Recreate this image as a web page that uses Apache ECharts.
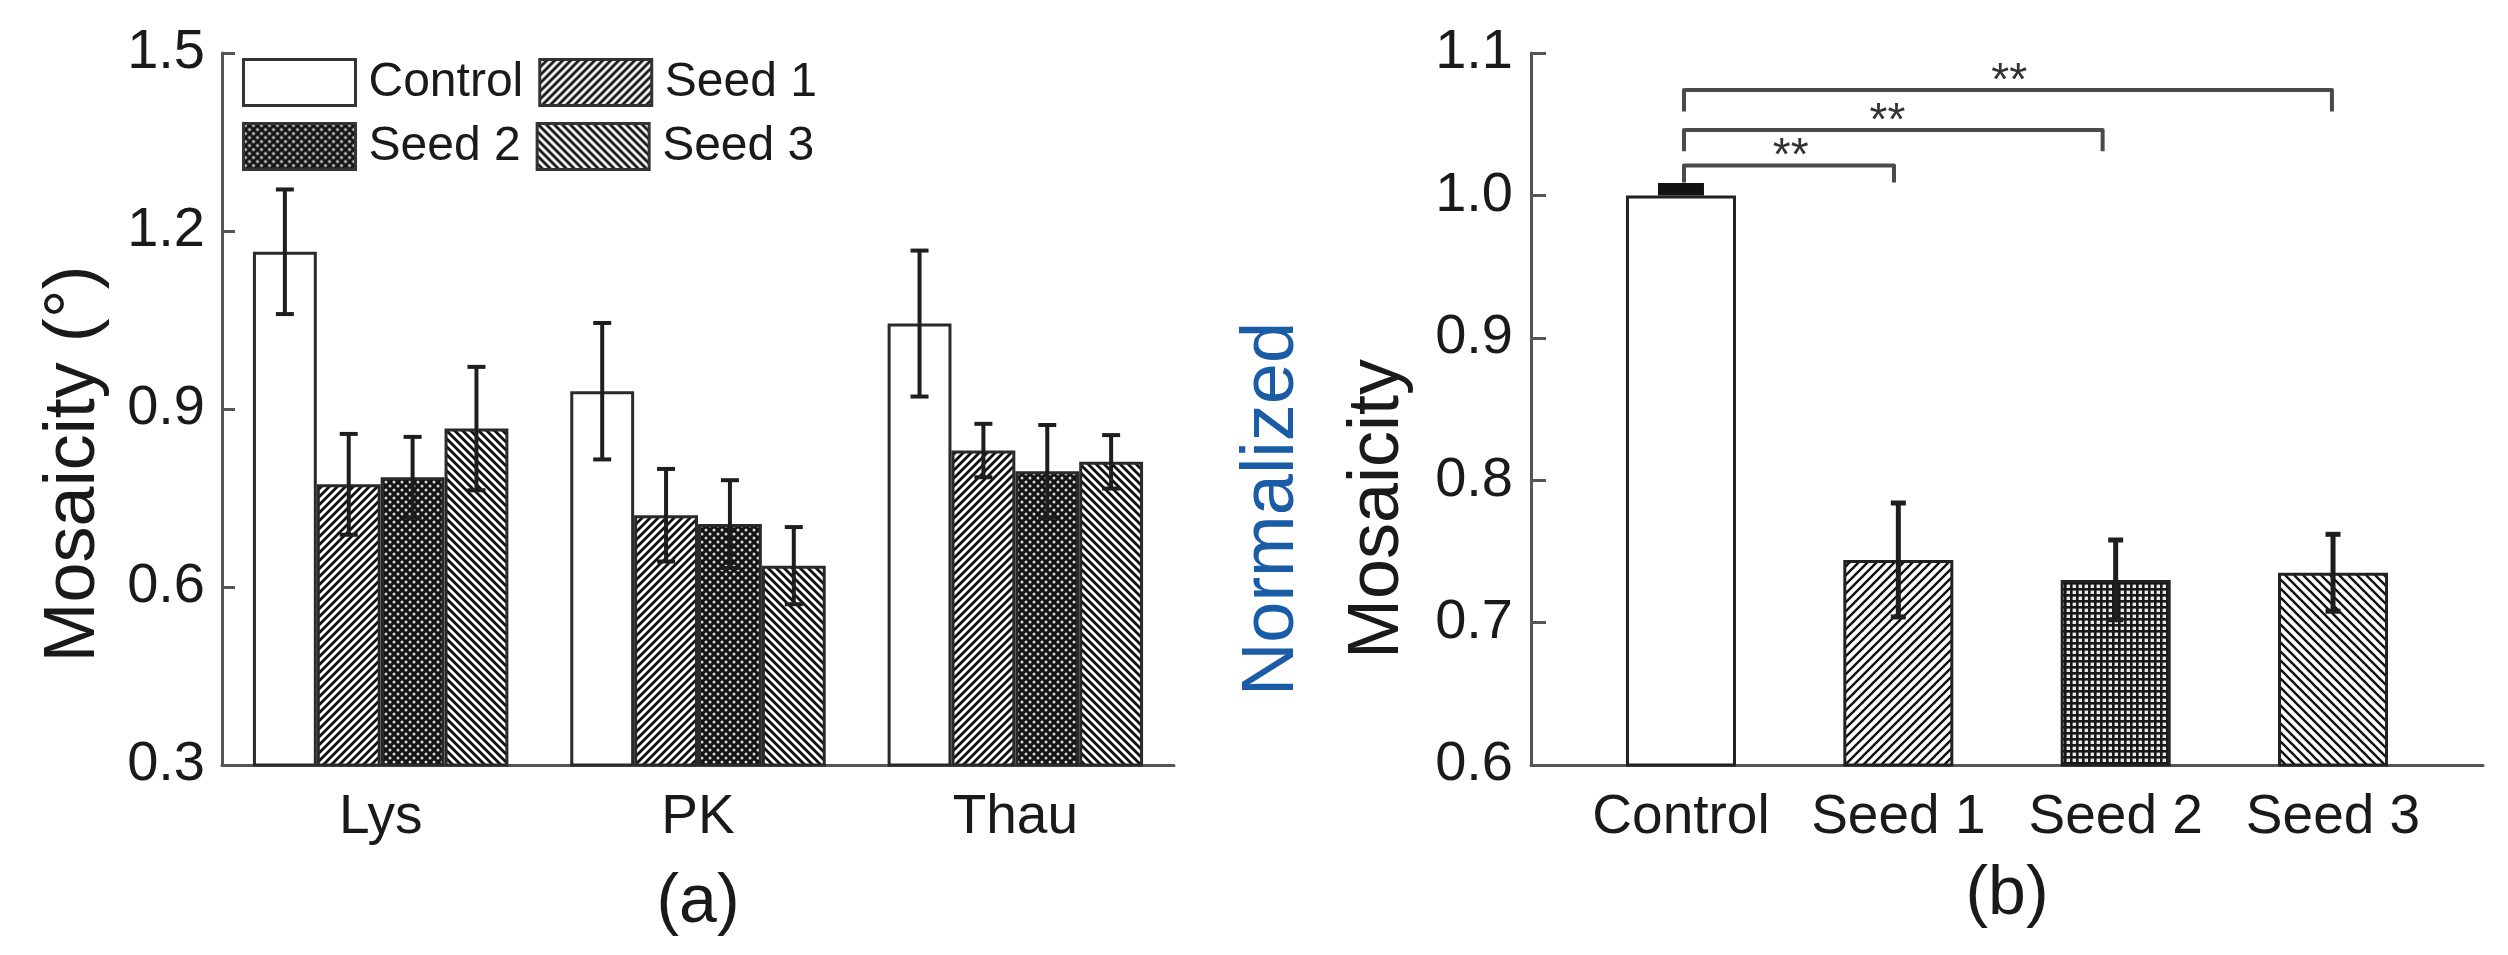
<!DOCTYPE html>
<html>
<head>
<meta charset="utf-8">
<script src="https://cdn.jsdelivr.net/npm/echarts@6.0.0/dist/echarts.min.js"></script>
<style>
html,body{margin:0;padding:0;background:#fff;}
#chart{width:2508px;height:955px;}
</style>
</head>
<body>
<div id="chart"></div>
<script>
// ---------- data ----------
const categoriesA = ['Lys', 'PK', 'Thau'];
const seriesNames = ['Control', 'Seed 1', 'Seed 2', 'Seed 3'];
const controlA = [1.165, 0.930, 1.044];
const seed1A = [0.773, 0.721, 0.830];
const seed2A = [0.785, 0.706, 0.795];
const seed3A = [0.867, 0.636, 0.811];
const controlErrA = [0.105, 0.115, 0.123];
const seed1ErrA = [0.085, 0.078, 0.045];
const seed2ErrA = [0.068, 0.074, 0.078];
const seed3ErrA = [0.104, 0.065, 0.045];
const yTicksA = [0.3, 0.6, 0.9, 1.2, 1.5];

const categoriesB = ['Control', 'Seed 1', 'Seed 2', 'Seed 3'];
const positionsB = [1, 2, 3, 4];
const valuesB = [1.000, 0.744, 0.730, 0.735];
const errB = [0.0087, 0.040, 0.028, 0.027];
const yTicksB = [0.6, 0.7, 0.8, 0.9, 1.0, 1.1];

// significance brackets (panel b)
const bracketLeftX = [1.014, 1.014, 1.014];
const bracketRightX = [1.98, 2.94, 3.995];
const bracketY = [1.021, 1.046, 1.074];
const bracketLegY = [1.009, 1.031, 1.059];
const starX = [1.505, 1.95, 2.51];
const starLabels = ['**', '**', '**'];

// ---------- styles ----------
const FONT = 'Liberation Sans, Arial, sans-serif';
const INK = '#1a1a1a';
const AXIS = '#555';

function tile(size, draw) {
  const c = document.createElement('canvas');
  c.width = size; c.height = size;
  const g = c.getContext('2d');
  draw(g, size);
  return { image: c, repeat: 'repeat' };
}
function stripes(size, lw, forward) {
  return tile(size, (g, s) => {
    g.fillStyle = '#fff'; g.fillRect(0, 0, s, s);
    g.strokeStyle = '#111'; g.lineWidth = lw; g.lineCap = 'square';
    const segs = forward
      ? [[-s, s, s, -s], [0, s, s, 0], [0, 2 * s, 2 * s, 0]]
      : [[0, 0, s, s], [-s, 0, s, 2 * s], [0, -s, 2 * s, s]];
    segs.forEach(p => { g.beginPath(); g.moveTo(p[0], p[1]); g.lineTo(p[2], p[3]); g.stroke(); });
  });
}
const dots = tile(8, (g, s) => {
  g.fillStyle = '#151515'; g.fillRect(0, 0, s, s);
  g.fillStyle = '#d8d8d8';
  [[2, 2], [6, 6]].forEach(p => { g.beginPath(); g.arc(p[0], p[1], 1.5, 0, Math.PI * 2); g.fill(); });
});
const grid = tile(6, (g, s) => {
  g.fillStyle = '#e8e8e8'; g.fillRect(0, 0, s, s);
  g.fillStyle = '#181818'; g.fillRect(0, 0, s, 2.6); g.fillRect(0, 0, 2.6, s);
});
const patA = ['#ffffff', stripes(8, 2.8, true), dots, stripes(8, 2.8, false)];
const patB = ['#ffffff', stripes(9, 2.4, true), grid, stripes(9, 2.4, false)];

const valuesA = [controlA, seed1A, seed2A, seed3A];
const errsA = [controlErrA, seed1ErrA, seed2ErrA, seed3ErrA];
const BAR_FRAC = 0.805;

function errBar(x, yH, yL, cap, lw) {
  const st = { stroke: '#1e1e1e', lineWidth: lw };
  return [
    { type: 'line', shape: { x1: x, y1: yH, x2: x, y2: yL }, style: st },
    { type: 'line', shape: { x1: x - cap / 2, y1: yH, x2: x + cap / 2, y2: yH }, style: st },
    { type: 'line', shape: { x1: x - cap / 2, y1: yL, x2: x + cap / 2, y2: yL }, style: st }
  ];
}

const series = [];
seriesNames.forEach((name, j) => {
  series.push({
    name: name, type: 'bar', xAxisIndex: 0, yAxisIndex: 0,
    data: valuesA[j], barGap: '0%', barCategoryGap: '19.5%',
    itemStyle: { color: patA[j], borderColor: '#2a2a2a', borderWidth: 3 },
    clip: true
  });
});
seriesNames.forEach((name, j) => {
  series.push({
    name: name + ' err', type: 'custom', xAxisIndex: 0, yAxisIndex: 0, z: 5,
    data: categoriesA.map((c, i) => [i, valuesA[j][i], errsA[j][i]]),
    renderItem: function (params, api) {
      const c = api.value(0), m = api.value(1), e = api.value(2);
      const band = api.size([1, 0])[0];
      const bw = band * BAR_FRAC / 4;
      const x = api.coord([c, m])[0] + (j - 1.5) * bw;
      const yH = api.coord([c, m + e])[1];
      const yL = api.coord([c, m - e])[1];
      return { type: 'group', children: errBar(x, yH, yL, 18, 4) };
    }
  });
});

series.push({
  name: 'b', type: 'bar', xAxisIndex: 1, yAxisIndex: 1, barWidth: 110, clip: true,
  data: positionsB.map((p, i) => ({
    value: [p, valuesB[i]],
    itemStyle: { color: patB[i], borderColor: '#222', borderWidth: 3 }
  }))
});
series.push({
  name: 'b err', type: 'custom', xAxisIndex: 1, yAxisIndex: 1, z: 5,
  data: positionsB.map((p, i) => [p, valuesB[i], errB[i]]),
  renderItem: function (params, api) {
    const p = api.value(0), m = api.value(1), e = api.value(2);
    const x = api.coord([p, m])[0];
    const yM = api.coord([p, m])[1];
    const yH = api.coord([p, m + e])[1];
    const yL = api.coord([p, m - e])[1];
    if (yM - yH < 20) {
      return { type: 'rect', shape: { x: x - 23, y: yH, width: 46, height: yM - yH }, style: { fill: '#111' } };
    }
    return { type: 'group', children: errBar(x, yH, yL, 15, 5) };
  }
});
series.push({
  name: 'sig', type: 'custom', xAxisIndex: 1, yAxisIndex: 1, z: 6, clip: false,
  data: bracketY.map((y, i) => [bracketLeftX[i], bracketRightX[i], y, bracketLegY[i], starX[i]]),
  renderItem: function (params, api) {
    const i = params.dataIndex;
    const x1 = api.value(0), x2 = api.value(1), y = api.value(2), yl = api.value(3), xs = api.value(4);
    const a = api.coord([x1, y]), b = api.coord([x2, y]);
    const la = api.coord([x1, yl]), lb = api.coord([x2, yl]);
    const s = api.coord([xs, y]);
    return {
      type: 'group', children: [
        { type: 'polyline', shape: { points: [[la[0], la[1]], [a[0], a[1]], [b[0], b[1]], [lb[0], lb[1]]] },
          style: { stroke: '#4a4a4a', lineWidth: 4, fill: null, lineJoin: 'round' } },
        { type: 'text', x: s[0], y: s[1] + 15,
          style: { text: starLabels[i], fill: '#333', font: '46px ' + FONT, align: 'center', verticalAlign: 'bottom' } }
      ]
    };
  }
});

const axisLineStyle = { color: AXIS, width: 3 };
const option = {
  animation: false,
  backgroundColor: '#fff',
  textStyle: { fontFamily: FONT },
  grid: [
    { left: 222, top: 53, width: 952, height: 712 },
    { left: 1531, top: 53, width: 952, height: 712 }
  ],
  legend: {
    left: 237, top: 53, width: 620, itemWidth: 112, itemHeight: 46, itemGap: 15,
    icon: 'rect', data: seriesNames, selectedMode: false,
    itemStyle: { borderColor: '#333', borderWidth: 3 },
    textStyle: { fontSize: 48, color: INK, fontFamily: FONT, padding: [0, 0, 0, 8] }
  },
  xAxis: [
    {
      type: 'category', gridIndex: 0, data: categoriesA,
      axisLine: { lineStyle: axisLineStyle }, axisTick: { show: false },
      axisLabel: { fontSize: 55, margin: 25, color: INK, fontFamily: FONT },
      name: '(a)', nameLocation: 'middle', nameGap: 104,
      nameTextStyle: { fontSize: 68, color: INK, fontFamily: FONT }
    },
    {
      type: 'value', gridIndex: 1, min: 0.31, max: 4.69,
      axisLine: { lineStyle: axisLineStyle }, axisTick: { show: false }, splitLine: { show: false },
      axisLabel: {
        customValues: positionsB, fontSize: 55, margin: 25, color: INK, fontFamily: FONT,
        formatter: v => categoriesB[positionsB.indexOf(v)] || ''
      },
      name: '(b)', nameLocation: 'middle', nameGap: 96,
      nameTextStyle: { fontSize: 68, color: INK, fontFamily: FONT }
    }
  ],
  yAxis: [
    {
      type: 'value', gridIndex: 0, min: yTicksA[0], max: yTicksA[yTicksA.length - 1], interval: 0.3,
      axisLine: { show: true, lineStyle: axisLineStyle },
      axisTick: { show: true, inside: true, length: 13, lineStyle: axisLineStyle },
      splitLine: { show: false },
      axisLabel: { fontSize: 56, margin: 17, color: INK, fontFamily: FONT, formatter: v => v.toFixed(1) },
      name: 'Mosaicity (°)', nameLocation: 'middle', nameGap: 112,
      nameTextStyle: { fontSize: 72, color: INK, fontFamily: FONT, padding: [0, 110, 0, 0] }
    },
    {
      type: 'value', gridIndex: 1, min: yTicksB[0], max: yTicksB[yTicksB.length - 1], interval: 0.1,
      axisLine: { show: true, lineStyle: axisLineStyle },
      axisTick: { show: true, inside: true, length: 15, lineStyle: axisLineStyle },
      splitLine: { show: false },
      axisLabel: { fontSize: 56, margin: 18, color: INK, fontFamily: FONT, formatter: v => v.toFixed(1) },
      name: '{n|Normalized}\n{m|Mosaicity}', nameLocation: 'middle', nameGap: 99,
      nameTextStyle: {
        fontSize: 73, fontFamily: FONT, lineHeight: 106, padding: [0, 200, 0, 0],
        rich: {
          n: { fontSize: 74, fontFamily: FONT, color: '#1a5ca6', lineHeight: 106,
               textShadowColor: '#f0a040', textShadowOffsetX: -2, textShadowBlur: 0 },
          m: { fontSize: 72, fontFamily: FONT, color: INK, lineHeight: 106 }
        }
      }
    }
  ],
  series: series
};

const chart = echarts.init(document.getElementById('chart'));
chart.setOption(option);
</script>
</body>
</html>
